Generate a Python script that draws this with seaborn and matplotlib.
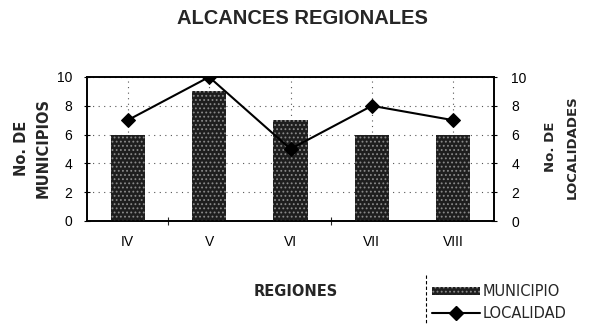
import matplotlib
matplotlib.use("Agg")
import matplotlib.pyplot as plt
import seaborn as sns
import pandas as pd
from matplotlib.patches import Patch
from matplotlib.lines import Line2D

regiones = ["IV", "V", "VI", "VII", "VIII"]
municipios = [6, 9, 7, 6, 6]
localidades = [7, 10, 5, 8, 7]
yticks = [0, 2, 4, 6, 8, 10]

df = pd.DataFrame({"region": regiones, "municipio": municipios, "localidad": localidades})

sns.set_theme(style="white")
plt.rcParams["font.family"] = ["Liberation Sans", "DejaVu Sans"]
plt.rcParams["hatch.linewidth"] = 0.8

W, H = 589, 324
fig = plt.figure(figsize=(W/100, H/100), dpi=100)
ax = fig.add_axes([87/W, 1-221/H, (494-87)/W, (221-77)/H])
ax.set_facecolor("white")

sns.barplot(data=df, x="region", y="municipio", ax=ax, color="#1e1e1e",
            width=0.42, saturation=1, zorder=3)
for p in ax.patches:
    p.set_hatch("....")
    p.set_edgecolor("#8a8a8a")
    p.set_linewidth(0)

ax2 = ax.twinx()
sns.lineplot(data=df, x="region", y="localidad", ax=ax2, color="black",
             marker="D", markersize=7, linewidth=1.5, markeredgecolor="black",
             sort=False, zorder=4)

for a in (ax, ax2):
    a.set_ylim(0, 10)
    a.set_yticks(yticks)
    a.set_xlim(-0.5, len(regiones) - 0.5)
    a.set_xlabel("")
    a.set_ylabel("")
    for s in a.spines.values():
        s.set_color("black")
        s.set_linewidth(1.2)

ax.set_yticklabels([str(v) for v in yticks], fontsize=10)
ax2.set_yticklabels([str(v) for v in yticks], fontsize=10)
ax.tick_params(axis="y", direction="inout", length=5, width=0.8, left=True, pad=8, colors="black")
ax2.tick_params(axis="y", direction="inout", length=5, width=0.8, right=True, pad=10, colors="black")
ax.tick_params(axis="x", length=0, pad=10, labelsize=10, colors="black")
ax.set_xticks(range(len(regiones)))
ax.set_xticklabels(regiones)
ax.set_xticks([0.5, 2.5], minor=True)
ax.tick_params(axis="x", which="minor", direction="inout", length=6, width=0.8, bottom=True)

ax.grid(True, axis="both", linestyle=(0, (1, 4)), color="#555555", linewidth=0.8, zorder=0)
ax.set_axisbelow(True)

fig.text(302.5/W, 1-18.5/H, "ALCANCES REGIONALES", ha="center", va="center",
         fontsize=14.5, fontweight="bold")
fig.text(21/W, 1-148/H, "No. DE", ha="center", va="center",
         rotation=90, fontsize=10.5, fontweight="bold", family="DejaVu Sans")
fig.text(43/W, 1-148/H, "MUNICIPIOS", ha="center", va="center",
         rotation=90, fontsize=10.5, fontweight="bold", family="DejaVu Sans")
fig.text(551/W, 1-147/H, "No. DE", ha="center", va="center",
         rotation=90, fontsize=9.5, fontweight="bold", family="DejaVu Sans")
fig.text(572/W, 1-147/H, "LOCALIDADES", ha="center", va="center",
         rotation=90, fontsize=9.5, fontweight="bold", family="DejaVu Sans")
fig.text(296/W, 1-291/H, "REGIONES", ha="center", va="center",
         fontsize=10.5, fontweight="bold", family="DejaVu Sans")

handles = [Patch(facecolor="#1e1e1e", edgecolor="#8a8a8a", hatch="....", linewidth=0),
           Line2D([0], [0], color="black", marker="D", markersize=7, linewidth=1.5)]
leg = fig.legend(handles, ["MUNICIPIO", "LOCALIDAD"], loc="center left",
                 bbox_to_anchor=(432/W, 1-302.5/H), frameon=False,
                 prop={"family": "DejaVu Sans", "size": 10.5},
                 handlelength=3.3, handleheight=0.5, handletextpad=0.2,
                 labelspacing=0.45, borderaxespad=0, borderpad=0)
fig.add_artist(Line2D([426/W, 426/W], [1-275/H, 0], transform=fig.transFigure,
                      color="black", linewidth=0.8, linestyle=(0, (3, 2))))

fig.savefig("out.png", dpi=100)
